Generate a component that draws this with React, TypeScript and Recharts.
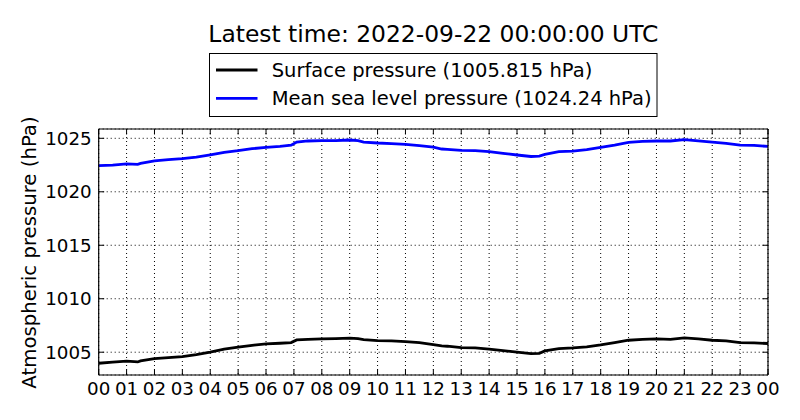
import React from 'react';
import { LineChart, Line, XAxis, YAxis, CartesianGrid } from 'recharts';

const HOURS = [0, 0.5, 1, 1.4, 1.5, 2, 2.5, 3, 3.5, 4, 4.5, 5, 5.5, 6, 6.5, 6.9, 7.1, 7.5, 8, 8.5, 9, 9.3, 9.5, 10, 10.5, 11, 11.5, 12, 12.3, 12.5, 13, 13.5, 14, 14.5, 15, 15.5, 15.8, 16, 16.5, 17, 17.5, 18, 18.5, 19, 19.5, 20, 20.5, 21, 21.5, 22, 22.5, 23, 23.5, 24];

const SURFACE = [1003.97, 1004.07, 1004.16, 1004.09, 1004.19, 1004.4, 1004.5, 1004.59, 1004.78, 1005.0,
  1005.28, 1005.47, 1005.65, 1005.78, 1005.84, 1005.9, 1006.15, 1006.21, 1006.24, 1006.27,
  1006.31, 1006.27, 1006.18, 1006.09, 1006.06, 1005.99, 1005.9, 1005.71, 1005.59, 1005.56,
  1005.43, 1005.4, 1005.28, 1005.15, 1005.0, 1004.87, 1004.9, 1005.12, 1005.34, 1005.4,
  1005.5, 1005.68, 1005.9, 1006.12, 1006.21, 1006.24, 1006.21, 1006.34, 1006.24, 1006.12,
  1006.06, 1005.9, 1005.87, 1005.815];

const MSLP = [1022.44, 1022.5, 1022.6, 1022.57, 1022.66, 1022.9, 1023.0, 1023.1, 1023.25, 1023.44,
  1023.69, 1023.84, 1024.03, 1024.16, 1024.25, 1024.35, 1024.65, 1024.75, 1024.78, 1024.78,
  1024.84, 1024.78, 1024.65, 1024.56, 1024.5, 1024.44, 1024.31, 1024.17, 1024.0, 1023.97,
  1023.88, 1023.84, 1023.75, 1023.6, 1023.44, 1023.3, 1023.34, 1023.5, 1023.75, 1023.81,
  1023.94, 1024.16, 1024.37, 1024.62, 1024.72, 1024.75, 1024.75, 1024.87, 1024.75, 1024.65,
  1024.53, 1024.37, 1024.34, 1024.24];

const X_TICKS = [0, 1, 2, 3, 4, 5, 6, 7, 8, 9, 10, 11, 12, 13, 14, 15, 16, 17, 18, 19, 20, 21, 22, 23, 24];
const Y_TICKS = [1005, 1010, 1015, 1020, 1025];
const Y_DOMAIN = [1002.87, 1025.87];
const X_DOMAIN = [0, 24];

const TITLE = 'Latest time: 2022-09-22 00:00:00 UTC';
const Y_LABEL = 'Atmospheric pressure (hPa)';

const SERIES = [
  { key: 'surface', name: 'Surface pressure (1005.815 hPa)', color: '#000000' },
  { key: 'mslp', name: 'Mean sea level pressure (1024.24 hPa)', color: '#0000ff' },
];

const data = HOURS.map((h, i) => ({ h, surface: SURFACE[i], mslp: MSLP[i] }));

const FONT = 'DejaVu Sans';
const TICK_LEN = 5.5;
const TICK_FONT = 18.3;
const fmtHour = (h: number) => String(h % 24).padStart(2, '0');

const BottomTick = (props: any) => {
  const { x, y, payload } = props;
  return (
    <g>
      <line x1={x} x2={x} y1={y} y2={y - TICK_LEN} stroke="#000" strokeWidth={1} />
      <text x={x} y={y + 20} textAnchor="middle" fontSize={TICK_FONT} fontFamily={FONT} fill="#000">
        {fmtHour(payload.value)}
      </text>
    </g>
  );
};

const TopTick = (props: any) => {
  const { x, y } = props;
  return <line x1={x} x2={x} y1={y} y2={y + TICK_LEN} stroke="#000" strokeWidth={1} />;
};

const LeftTick = (props: any) => {
  const { x, y, payload } = props;
  return (
    <g>
      <line x1={x} x2={x + TICK_LEN} y1={y} y2={y} stroke="#000" strokeWidth={1} />
      <text x={x - 7} y={y + 6.6} textAnchor="end" fontSize={TICK_FONT} fontFamily={FONT} fill="#000">
        {payload.value}
      </text>
    </g>
  );
};

const RightTick = (props: any) => {
  const { x, y } = props;
  return <line x1={x} x2={x - TICK_LEN} y1={y} y2={y} stroke="#000" strokeWidth={1} />;
};

export default function App() {
  return (
    <div style={{ position: 'absolute', left: 0, top: 0, width: 800, height: 420, background: '#fff' }}>
      <LineChart
        width={800}
        height={420}
        data={data}
        margin={{ top: 128, right: 31, bottom: 15, left: 38.7 }}
      >
        <CartesianGrid
          xAxisId="b"
          yAxisId="l"
          stroke="#000"
          strokeWidth={1}
          strokeDasharray="1 3"
        />
        <XAxis
          xAxisId="b"
          dataKey="h"
          type="number"
          domain={X_DOMAIN}
          ticks={X_TICKS}
          interval={0}
          allowDataOverflow
          height={30}
          tickLine={false}
          tickSize={0}
          tickMargin={0}
          axisLine={{ stroke: '#000', strokeWidth: 1.2 }}
          tick={BottomTick}
        />
        <XAxis
          xAxisId="t"
          orientation="top"
          dataKey="h"
          type="number"
          domain={X_DOMAIN}
          ticks={X_TICKS}
          interval={0}
          allowDataOverflow
          height={1}
          tickLine={false}
          tickSize={0}
          tickMargin={0}
          axisLine={{ stroke: '#000', strokeWidth: 1.2 }}
          tick={TopTick}
        />
        <YAxis
          yAxisId="l"
          type="number"
          domain={Y_DOMAIN}
          ticks={Y_TICKS}
          interval={0}
          allowDataOverflow
          width={60}
          tickLine={false}
          tickSize={0}
          tickMargin={0}
          axisLine={{ stroke: '#000', strokeWidth: 1.2 }}
          tick={LeftTick}
        />
        <YAxis
          yAxisId="r"
          orientation="right"
          type="number"
          domain={Y_DOMAIN}
          ticks={Y_TICKS}
          interval={0}
          allowDataOverflow
          width={1}
          tickLine={false}
          tickSize={0}
          tickMargin={0}
          axisLine={{ stroke: '#000', strokeWidth: 1.2 }}
          tick={RightTick}
        />
        {SERIES.map((s) => (
          <Line
            key={s.key}
            xAxisId="b"
            yAxisId="l"
            type="linear"
            dataKey={s.key}
            name={s.name}
            stroke={s.color}
            strokeWidth={2.8}
            dot={false}
            activeDot={false}
            isAnimationActive={false}
          />
        ))}
      </LineChart>
      <svg
        width={800}
        height={420}
        style={{ position: 'absolute', left: 0, top: 0, pointerEvents: 'none' }}
      >
        <text x={433.4} y={41.7} textAnchor="middle" fontSize={23.4} fontFamily={FONT} fill="#000">
          {TITLE}
        </text>
        <text
          transform="translate(36,252.5) rotate(-90)"
          textAnchor="middle"
          fontSize={19.7}
          fontFamily={FONT}
          fill="#000"
        >
          {Y_LABEL}
        </text>
        <rect x={209.5} y={53.5} width={447.5} height={63} fill="#fff" stroke="#000" strokeWidth={1} />
        {SERIES.map((s, i) => (
          <g key={s.key}>
            <line x1={216} x2={257.5} y1={70 + i * 28.3} y2={70 + i * 28.3} stroke={s.color} strokeWidth={2.8} />
            <text x={271.7} y={76.7 + i * 28.3} fontSize={19.5} fontFamily={FONT} fill="#000">
              {s.name}
            </text>
          </g>
        ))}
      </svg>
    </div>
  );
}
